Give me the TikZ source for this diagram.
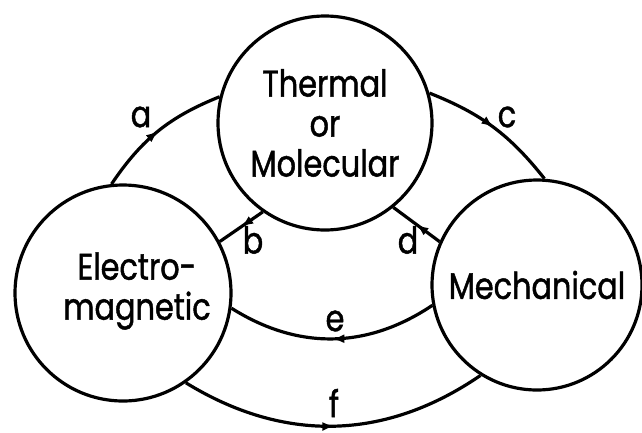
\documentclass[tikz,border=0pt]{standalone}
\usepackage{fontspec}
\setmainfont{Poppins}[FakeStretch=0.82,FakeBold=1.2]
\usetikzlibrary{arrows.meta,decorations.markings}
\begin{document}
\begin{tikzpicture}[x=1pt,y=1pt,
  every node/.style={font=\fontsize{37}{40}\selectfont},
  blob/.style={circle,draw,line width=3.2pt,align=center,inner sep=0pt},
  flow/.style={line width=3.2pt,postaction={decorate},
    decoration={markings,mark=at position 0.5 with {\arrow{Latex[length=12pt,width=9pt]}}}},
  lbl/.style={inner sep=0pt}]
\useasboundingbox (0,0) rectangle (642,-432);
\node[blob,minimum size=214pt] (T) at (325,-123) {Thermal\\or\\Molecular};
\node[blob,minimum size=216pt] (L) at (123,-293) {};
\node[align=center,inner sep=0pt] (Ltxt) at (137,-291) {Electro-\\magnetic};
\node[blob,minimum size=210pt] (R) at (537,-285) {Mechanical};
\draw[flow] (L.96) to[bend left=17] (T.166);
\draw[flow] (T.16) to[bend left=15] (R.86);
\draw[flow] (T.235) -- (L.28);
\draw[flow] (R.156) -- (T.-51);
\draw[flow] (R.191) to[bend left=33] (L.-8);
\draw[flow] (L.-55) to[bend right=33] (R.238);
\node[lbl] (la) at (141,-117) {a};
\node[lbl] (lc) at (507,-117) {c};
\node[lbl] (lb) at (253,-240) {b};
\node[lbl] (ld) at (408,-240) {d};
\node[lbl] (le) at (335,-321) {e};
\node[lbl] (lf) at (334,-403) {f};
\end{tikzpicture}
\end{document}
